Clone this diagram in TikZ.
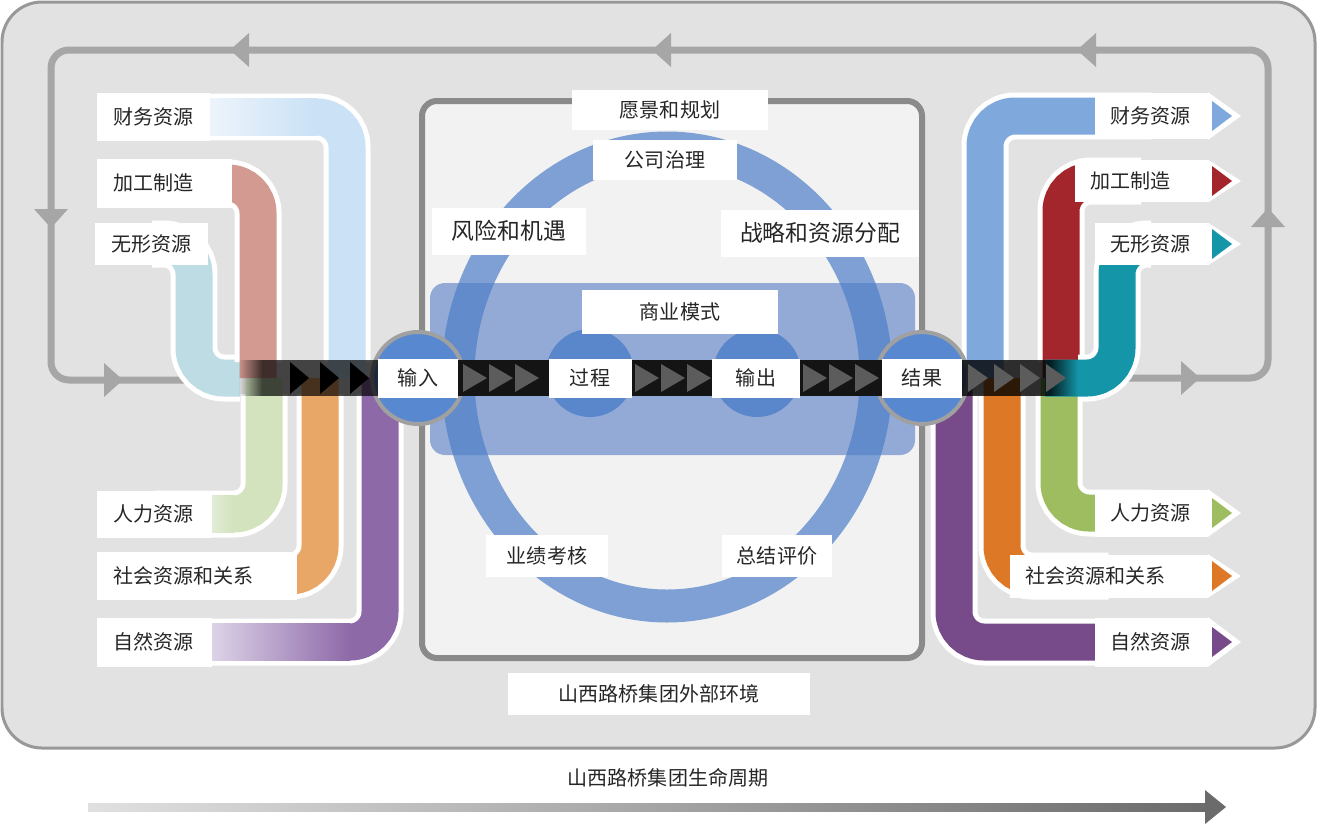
\documentclass[tikz,border=0pt]{standalone}
\usepackage{fontspec}
\newfontfamily\cjk{Noto Sans CJK SC}
\usetikzlibrary{backgrounds,fadings}

\definecolor{panel}{RGB}{226,226,226}
\definecolor{panelrim}{RGB}{152,152,152}
\definecolor{track}{RGB}{166,166,166}
\definecolor{boxfill}{RGB}{242,242,242}
\definecolor{boxrim}{RGB}{138,138,138}
\definecolor{ringblue}{RGB}{77,126,200}
\definecolor{zoneblue}{RGB}{148,170,214}
\definecolor{dotblue}{RGB}{90,134,204}
\definecolor{hubblue}{RGB}{88,137,208}
\definecolor{hubrim}{RGB}{160,160,160}
\definecolor{chev}{RGB}{92,92,92}
% left pipes
\definecolor{cfinL}{RGB}{202,225,246}
\definecolor{cfinLa}{RGB}{238,245,251}
\definecolor{cmfgL}{RGB}{210,154,144}
\definecolor{cintL}{RGB}{190,220,228}
\definecolor{chumL}{RGB}{210,227,190}
\definecolor{chumLa}{RGB}{230,239,220}
\definecolor{csocL}{RGB}{233,167,103}
\definecolor{cnatL}{RGB}{142,105,168}
\definecolor{cnatLa}{RGB}{224,216,234}
% right pipes
\definecolor{cfinR}{RGB}{127,169,220}
\definecolor{cmfgR}{RGB}{163,38,45}
\definecolor{cintR}{RGB}{20,149,168}
\definecolor{chumR}{RGB}{157,189,96}
\definecolor{csocR}{RGB}{220,120,38}
\definecolor{cnatR}{RGB}{119,74,138}

\tikzfading[name=fadein, left color=transparent!100, right color=transparent!0]
\tikzfading[name=fadeout, left color=transparent!0, right color=transparent!100]

\begin{document}
\begin{tikzpicture}[x=0.02cm, y=-0.02cm,
	lbl/.style={fill=white, text=black!85, font=\cjk\fontsize{11.4}{13}\selectfont, inner xsep=0.32cm, inner ysep=0pt, minimum height=0.94cm, align=left},
	tag/.style={fill=white, text=black!85, font=\cjk\fontsize{11.4}{13}\selectfont, inner sep=0pt, minimum height=0.8cm},
	bigtag/.style={tag, font=\cjk\fontsize{13}{15}\selectfont, minimum height=0.94cm},
	hub/.style={tag, minimum height=0.78cm},
	rim/.style={draw=white, line width=0.94cm, rounded corners=0.6cm},
	tube/.style={draw=#1, line width=0.74cm, rounded corners=0.6cm},
	trk/.style={draw=track, line width=0.14cm, rounded corners=0.36cm}]
	\useasboundingbox (0,0) rectangle (1317,825);
	% Left labels
	\node[lbl, anchor=west, text width=1.62cm, minimum height=0.98cm] (lfin) at (97,117) {财务资源};
	\node[lbl, anchor=west, text width=2.06cm, minimum height=0.98cm] (lmfg) at (97,183) {加工制造};
	\node[lbl, anchor=west, text width=1.62cm, minimum height=0.84cm] (lint) at (95,244) {无形资源};
	\node[lbl, anchor=west, text width=1.66cm] (lhum) at (97,514) {人力资源};
	\node[lbl, anchor=west, text width=3.36cm, minimum height=0.96cm] (lsoc) at (97,576) {社会资源和关系};
	\node[lbl, anchor=west, text width=1.66cm, minimum height=0.98cm] (lnat) at (97,642) {自然资源};
	% Right labels
	\node[lbl, anchor=east, text width=1.62cm] (rfin) at (1208,116) {财务资源};
	\node[lbl, anchor=east, text width=2.02cm, minimum height=0.84cm] (rmfg) at (1208,181) {加工制造};
	\node[lbl, anchor=east, text width=1.62cm, minimum height=0.84cm] (rint) at (1208,244) {无形资源};
	\node[lbl, anchor=east, text width=1.62cm] (rhum) at (1208,513) {人力资源};
	\node[lbl, anchor=east, text width=3.32cm, minimum height=0.86cm] (rsoc) at (1208,576) {社会资源和关系};
	\node[lbl, anchor=east, text width=1.62cm, minimum height=0.98cm] (rnat) at (1208,642) {自然资源};
	% Centre labels
	\node[tag, minimum width=3.92cm] (vis) at (670,110) {愿景和规划};
	\node[tag, minimum width=2.88cm] (gov) at (665,160) {公司治理};
	\node[bigtag, minimum width=3.08cm] (risk) at (509,231) {风险和机遇};
	\node[bigtag, minimum width=3.96cm] (strat) at (820,233) {战略和资源分配};
	\node[tag, minimum width=3.94cm, minimum height=0.88cm] (biz) at (680,312) {商业模式};
	\node[hub, minimum width=1.6cm] (inp) at (418,378) {输入};
	\node[hub, minimum width=1.66cm] (proc) at (590,378) {过程};
	\node[hub, minimum width=1.76cm] (outp) at (756,378) {输出};
	\node[hub, minimum width=1.6cm] (res) at (922,378) {结果};
	\node[tag, minimum width=2.44cm, minimum height=0.84cm] (perf) at (547,556) {业绩考核};
	\node[tag, minimum width=2.2cm, minimum height=0.84cm] (eval) at (777,556) {总结评价};
	\node[tag, minimum width=6.04cm, minimum height=0.84cm] (env) at (659,694) {山西路桥集团外部环境};
	\node[tag, fill=none] (life) at (668,778) {山西路桥集团生命周期};

	\begin{scope}[on background layer]
		% Panel
		\draw[fill=panel, draw=panelrim, line width=0.06cm, rounded corners=0.8cm] (2,2) rectangle (1315,748);
		% Loop
		\draw[trk] (200,380) -- (51,380) -- (51,50) -- (1268,50) -- (1268,378) -- (1120,378);
		\foreach \x in {230, 652, 1077} {
			\fill[track] (\x,50) -- ++(19,-17) -- ++(0,34) -- cycle;
		}
		\foreach \x/\y in {123/380, 1200/378} {
			\fill[track] (\x,\y) -- ++(-19,-17) -- ++(0,34) -- cycle;
		}
		\fill[track] (51,228) -- ++(-17,-19) -- ++(34,0) -- cycle;
		\fill[track] (1268,208) -- ++(-17,19) -- ++(34,0) -- cycle;
		% Inner box
		\draw[fill=boxfill, draw=boxrim, line width=0.12cm, rounded corners=0.3cm] (422,101) rectangle (922,658);
		% Model zone and ring
		\fill[zoneblue, rounded corners=0.3cm] (430,283) rectangle (915,455);
		\draw[ringblue, draw opacity=0.7, line width=0.66cm] (667,377) ellipse [x radius=209, y radius=229];
		\foreach \x in {590, 757} {
			\fill[dotblue] (\x,373) circle (44);
		}
		% Left pipes
		\foreach \n/\vx/\ey/\c in {lnat/380/394/cnatL, lsoc/320/394/csocL, lhum/264/394/chumL} {
			\draw[rim] (\n.center) -| (\vx,\ey);
			\draw[tube=\c] (\n.center) -| (\vx,378);
		}
		\draw[rim] (lint.center) -| (194,378) -- (240,378);
		\draw[tube=cintL] (lint.center) -| (194,378) -- (240,378);
		\foreach \n/\vx/\ey/\c in {lfin/347/362/cfinL, lmfg/258/362/cmfgL} {
			\draw[rim] (\n.center) -| (\vx,\ey);
			\draw[tube=\c] (\n.center) -| (\vx,378);
		}
		\shade[left color=cfinLa, right color=cfinL] (205,98.5) rectangle (317,135.5);
		\shade[left color=chumLa, right color=chumL] (205,495.5) rectangle (234,532.5);
		\shade[left color=cnatLa, right color=cnatL] (205,623.5) rectangle (350,660.5);
		% Right pipes
		\foreach \n/\vx/\ey/\c in {rnat/954/394/cnatR, rsoc/1002/394/csocR, rhum/1059/394/chumR, rfin/985/362/cfinR, rmfg/1061/362/cmfgR} {
			\draw[rim] (\n.center) -| (\vx,\ey);
			\draw[tube=\c] (\n.center) -| (\vx,378);
		}
		\draw[rim] (rint.center) -| (1117,378) -- (1078,378);
		\draw[tube=cintR] (rint.center) -| (1117,378) -- (1045,378);
		% Arrow tips
		\foreach \n/\c in {rfin/cfinR, rmfg/cmfgR, rint/cintR, rhum/chumR, rsoc/csocR, rnat/cnatR} {
			\fill[white] (\n.north east) -- ([xshift=0.66cm]\n.east) -- (\n.south east) -- cycle;
			\fill[\c] ([xshift=0.08cm]\n.east) ++(0,-15) -- ++(20,15) -- ++(-20,15) -- cycle;
		}
		% Hubs
		\foreach \n in {inp, res} {
			\draw[fill=hubblue, draw=hubrim, line width=0.08cm] (\n) circle (46);
		}
		% Band
		\coordinate (bandL) at (262,378);
		\coordinate (bandR) at (1050,378);
		\fill[black, fill opacity=0.7, path fading=fadein] (238,360) rectangle (262,396);
		\draw[black, draw opacity=0.7, line width=0.72cm] (bandL) -- (inp);
		\draw[black!92, line width=0.72cm] (inp) -- (res);
		\draw[black, draw opacity=0.8, line width=0.72cm] (res) -- (bandR);
		\fill[black, fill opacity=0.8, path fading=fadeout] (1050,360) rectangle (1078,396);
		\foreach \x in {290, 320, 350} {
			\fill[black] (\x,362) -- ++(19,16) -- ++(-19,16) -- cycle;
		}
		\foreach \x in {463, 489, 515, 635, 661, 687, 803, 829, 855} {
			\fill[chev] (\x,364) -- ++(24,14) -- ++(-24,14) -- cycle;
		}
		\foreach \x in {968, 994, 1020, 1046} {
			\fill[chev] (\x,364) -- ++(20,14) -- ++(-20,14) -- cycle;
		}
		% Lifecycle arrow
		\coordinate (lifeS) at (88,807);
		\coordinate (lifeE) at (1207,807);
		\shade[left color=black!12, right color=black!58] ([yshift=0.08cm]lifeS) rectangle ([yshift=-0.08cm]lifeE);
		\fill[black!58] ([xshift=-0.04cm]lifeE) ++(0,-17) -- ++(21,17) -- ++(-21,17) -- cycle;
	\end{scope}
\end{tikzpicture}
\end{document}
